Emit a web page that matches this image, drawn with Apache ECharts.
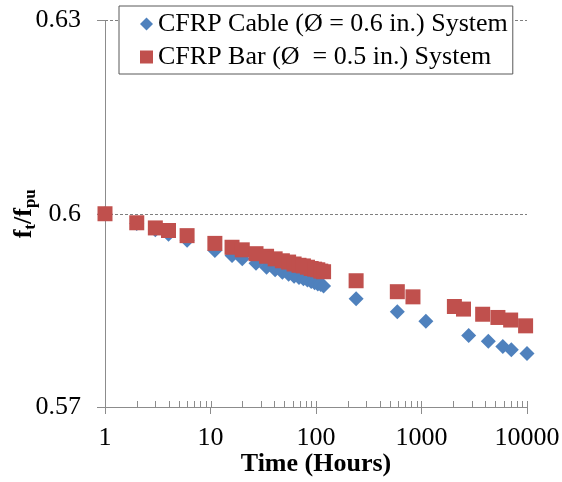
<!DOCTYPE html>
<html>
<head>
<meta charset="utf-8">
<script src="https://cdn.jsdelivr.net/npm/echarts@6/dist/echarts.min.js"></script>
<style>
  html, body { margin: 0; padding: 0; background: #fff; }
  #chart { width: 562px; height: 482px; }
</style>
</head>
<body>
<div id="chart"></div>
<script>
// hours and f_t/f_pu
const cableHours = [1, 2, 3, 4, 6, 11, 16, 20, 27, 34, 41, 48, 55, 62, 69, 76, 83, 90, 97, 104, 111, 118, 240, 590, 1100, 2800, 4300, 5900, 7100, 10000];
const cableRatio = [0.6, 0.5985, 0.5975, 0.5968, 0.5959, 0.5943, 0.5935, 0.5930, 0.5923, 0.5917, 0.5913, 0.5909, 0.5906, 0.5903, 0.5901, 0.5899, 0.5897, 0.5895, 0.5893, 0.5891, 0.5890, 0.5888, 0.5868, 0.5848, 0.5833, 0.5811, 0.5802, 0.5794, 0.5789, 0.5783];

const barHours = [1, 2, 3, 4, 6, 11, 16, 20, 27, 34, 41, 48, 55, 62, 69, 76, 83, 90, 97, 104, 111, 118, 240, 590, 830, 2050, 2500, 3800, 5300, 7000, 9700];
const barRatio = [0.6, 0.5986, 0.5978, 0.5974, 0.5966, 0.5954, 0.5948, 0.5944, 0.5938, 0.5934, 0.5930, 0.5927, 0.5925, 0.5922, 0.5920, 0.5919, 0.5917, 0.5915, 0.5914, 0.5913, 0.5911, 0.5910, 0.5896, 0.5879, 0.5871, 0.5856, 0.5852, 0.5844, 0.5839, 0.5835, 0.5826];

const xTicks = [1, 10, 100, 1000, 10000];
const yTickLabels = ['0.57', '0.6', '0.63'];

const seriesNames = ['CFRP Cable (Ø = 0.6 in.) System', 'CFRP Bar (Ø  = 0.5 in.) System'];

const FONT = "'Times New Roman', 'Liberation Serif', serif";
const AXIS_GRAY = '#8c8c8c';

// tick marks drawn inside the plot (minor 2..9 of each decade + upper half of majors)
const innerTicks = [];
xTicks.forEach((d, i) => {
  innerTicks.push([d]);
  if (i < xTicks.length - 1) {
    for (let k = 2; k <= 9; k++) innerTicks.push([d * k]);
  }
});

const chart = echarts.init(document.getElementById('chart'));

const option = {
  backgroundColor: '#fff',
  animation: false,
  textStyle: { fontFamily: FONT },
  grid: { left: 105, right: 35, top: 20.5, bottom: 75, outerBoundsMode: 'none', containLabel: false },
  legend: {
    orient: 'vertical',
    left: 119,
    top: 6,
    padding: [5, 5, 4, 21],
    itemGap: 7,
    itemWidth: 13,
    itemHeight: 13,
    backgroundColor: '#fff',
    borderColor: '#595959',
    borderWidth: 1,
    borderRadius: 0,
    textStyle: { fontFamily: FONT, fontSize: 26, color: '#000', lineHeight: 26 },
    data: [
      { name: seriesNames[0], icon: 'diamond' },
      { name: seriesNames[1], icon: 'rect' }
    ]
  },
  xAxis: {
    type: 'log',
    logBase: 10,
    min: 1,
    max: 10000,
    name: 'Time (Hours)',
    nameLocation: 'middle',
    nameGap: 44,
    nameMoveOverlap: false,
    nameTextStyle: { fontFamily: FONT, fontSize: 26, fontWeight: 'bold', color: '#000' },
    axisLine: { lineStyle: { color: AXIS_GRAY, width: 1 } },
    axisTick: { show: true, inside: false, length: 7, lineStyle: { color: AXIS_GRAY } },
    axisLabel: {
      color: '#000', fontSize: 26, fontFamily: FONT, margin: 18,
      formatter: v => String(Math.round(v))
    },
    splitLine: { show: false }
  },
  yAxis: {
    type: 'value',
    min: 0.57,
    max: 0.63,
    interval: 0.03,
    name: '{b|f}{s|t}{b|/f}{s|pu}',
    nameLocation: 'middle',
    nameRotate: 90,
    nameGap: 66,
    nameMoveOverlap: false,
    nameTextStyle: {
      rich: {
        b: { fontFamily: FONT, fontSize: 26, fontWeight: 'bold', color: '#000', lineHeight: 30 },
        s: { fontFamily: FONT, fontSize: 17, fontWeight: 'bold', color: '#000', lineHeight: 14, verticalAlign: 'bottom' }
      }
    },
    axisLine: { show: true, lineStyle: { color: AXIS_GRAY, width: 1 } },
    axisTick: { show: true, inside: false, length: 8, lineStyle: { color: AXIS_GRAY } },
    axisLabel: {
      color: '#000', fontSize: 26, fontFamily: FONT, margin: 24,
      formatter: v => yTickLabels[Math.round((v - 0.57) / 0.03)]
    },
    splitLine: { show: true, lineStyle: { color: '#7f7f7f', width: 1, type: [3, 2] } }
  },
  series: [
    {
      name: seriesNames[0],
      type: 'scatter',
      symbol: 'diamond',
      symbolSize: 15,
      itemStyle: { color: '#4F81BD', opacity: 1 },
      data: cableHours.map((h, i) => [h, cableRatio[i]]),
      z: 3
    },
    {
      name: seriesNames[1],
      type: 'scatter',
      symbol: 'rect',
      symbolSize: 15,
      itemStyle: { color: '#C0504D', opacity: 1 },
      data: barHours.map((h, i) => [h, barRatio[i]]),
      z: 4
    },
    {
      type: 'custom',
      silent: true,
      clip: false,
      z: 1,
      data: innerTicks,
      renderItem: function (params, api) {
        const p = api.coord([api.value(0), 0.57]);
        return {
          type: 'line',
          shape: { x1: Math.round(p[0]) + 0.5, y1: p[1], x2: Math.round(p[0]) + 0.5, y2: p[1] - 6 },
          style: { stroke: AXIS_GRAY, lineWidth: 1 }
        };
      }
    }
  ]
};

chart.setOption(option);
window.addEventListener('resize', () => chart.resize());
</script>
</body>
</html>
